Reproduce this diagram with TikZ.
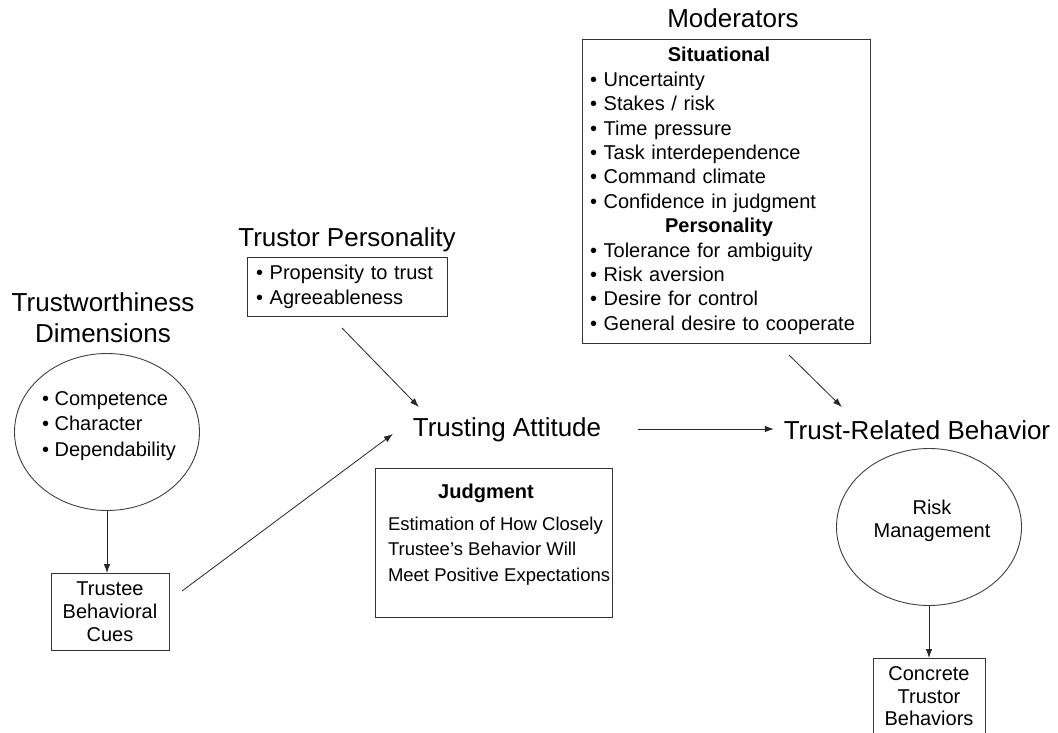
\documentclass[tikz,border=0pt]{standalone}
\usepackage{fontspec}
\setmainfont{Liberation Sans}
\usetikzlibrary{shapes.geometric,arrows.meta,calc}
\tikzset{
  every node/.style={inner sep=0pt, outer sep=0pt},
  box/.style={draw=black!80, line width=0.9pt},
  oval/.style={draw=black!75, line width=0.9pt, ellipse},
  arr/.style={draw=black!85, line width=0.8pt, -{Latex[length=9pt,width=6.5pt]}},
  title/.style={font=\fontsize{26}{31}\selectfont},
  body/.style={font=\fontsize{20}{24.4}\selectfont},
}
\begin{document}
\begin{tikzpicture}[x=1pt,y=-1pt]
\clip (0,0) rectangle (1058,733);
\fill[white] (0,0) rectangle (1058,733);

% titles
\node[title, align=center] (twt) at (103,318) {Trustworthiness\\Dimensions};
\node[title] (tpt) at (347,240) {Trustor Personality};
\node[title] (modt) at (733,18) {Moderators};
\node[title] (ta) at (507,430) {Trusting Attitude};
\node[title] (trb) at (917,430) {Trust-Related Behavior};

% trustworthiness ellipse
\node[oval, minimum width=185, minimum height=157] (tw) at (107,432) {};
\node[align=left, font=\fontsize{20}{25.5}\selectfont] (twx) at (109,426) {• Competence\\• Character\\• Dependability};

% trustee behavioral cues
\node[box, minimum width=118, minimum height=77, align=center,
      font=\fontsize{20}{23}\selectfont] (tbc) at (110,611.5) {Trustee\\Behavioral\\Cues};

% trustor personality box
\node[box, anchor=north west, minimum width=200, minimum height=59,
      text width=182, inner xsep=9pt, align=left,
      font=\fontsize{20}{25}\selectfont] (tp) at (247,257)
      {• Propensity to trust\\• Agreeableness};

% moderators box
\node[box, anchor=north west, minimum width=288, minimum height=304,
      text width=272, inner xsep=8pt, align=left, body] (mod) at (582,39)
{\makebox[258pt]{\textbf{Situational}}\\
• Uncertainty\\
• Stakes / risk\\
• Time pressure\\
• Task interdependence\\
• Command climate\\
• Confidence in judgment\\
\makebox[258pt]{\textbf{Personality}}\\
• Tolerance for ambiguity\\
• Risk aversion\\
• Desire for control\\
• General desire to cooperate};

% judgment box
\node[box, anchor=north west, minimum width=237, minimum height=149] (jb) at (375,468) {};
\node[font=\bfseries\fontsize{20}{24}\selectfont] (jt) at (486,493) {Judgment};
\node[font=\fontsize{18.5}{25.5}\selectfont, align=left, anchor=north west] (jx) at (388,517)
  {Estimation of How Closely\\Trustee's Behavior Will\\Meet Positive Expectations};

% risk management
\node[oval, minimum width=185, minimum height=157] (rm) at (929,527) {};
\node[align=center, font=\fontsize{20}{23}\selectfont] (rmt) at (932,521) {Risk\\Management};

% concrete trustor behaviors
\node[box, anchor=north, minimum width=112, minimum height=100] (ctb) at (929,658) {};
\node[align=center, font=\fontsize{20}{22.5}\selectfont, anchor=north] (ctbt) at (929,667)
  {Concrete\\Trustor\\Behaviors};

% connectors
\draw[arr] (tw.south) -- (tw.south |- tbc.north);
\draw[arr] (rm.south) -- (rm.south |- ctb.north);
\coordinate (c1) at ($(tbc.north east)+(13,18)$);
\coordinate (c2) at ($(ta.west)+(-20,4)$);
\draw[arr] (c1) -- (c2);
\coordinate (c3) at ($(tp.south)+(-5,12)$);
\coordinate (c4) at ($(ta.west)+(6,-23)$);
\draw[arr] (c3) -- (c4);
\coordinate (c5) at ($(ta.east)+(37,-1)$);
\coordinate (c6) at ($(trb.west)+(-10,-1)$);
\draw[arr] (c5) -- (c6);
\coordinate (c7) at ($(mod.south)+(63,12)$);
\coordinate (c8) at ($(trb.west)+(58,-23)$);
\draw[arr] (c7) -- (c8);
\end{tikzpicture}
\end{document}
